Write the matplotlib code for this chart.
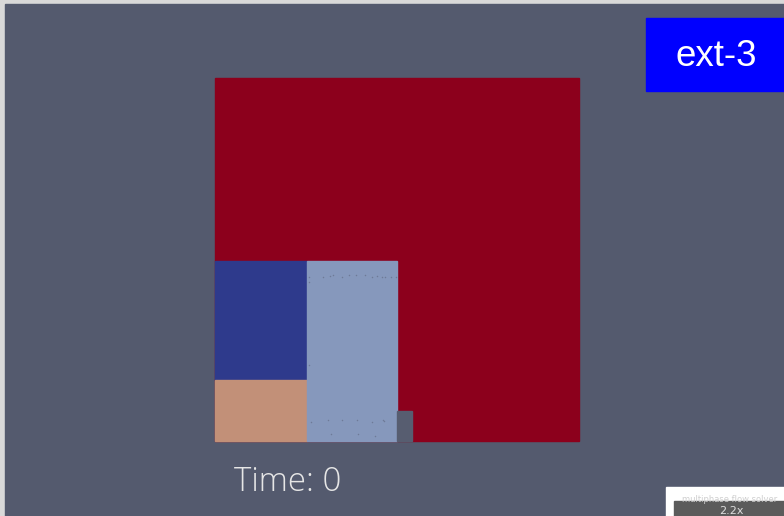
import matplotlib.pyplot as plt
from matplotlib.patches import Rectangle

# regioes do dominio (x0, y0, x1, y1) em coordenadas de tela
regioes = ['fluido', 'bloco_azul', 'bloco_areia', 'bloco_claro', 'degrau']
x0 = [215, 215, 215, 307, 397]
y0 = [78, 261, 380, 261, 411]
x1 = [579, 307, 307, 397, 412]
y1 = [441, 380, 441, 441, 441]
cores = ['#8c001c', '#2e3a8c', '#c29078', '#8698bc', '#575d70']

# pontos espalhados na regiao clara
pts_x = [309, 323, 330, 333, 342, 349, 356, 365, 372, 377, 382, 385, 391, 396,
         311, 328, 342, 357, 372, 383, 384, 331, 358, 375, 309, 309]
pts_y = [277, 277, 276, 275, 277, 275, 275, 275, 277, 276, 277, 277, 277, 277,
         422, 420, 420, 420, 422, 420, 421, 434, 434, 436, 282, 365]

rotulo = 'ext-3'
tempo = 'Time: 0'

fig = plt.figure(figsize=(7.84, 5.16), dpi=100)
fig.patch.set_facecolor('#d9d9d9')
ax = fig.add_axes([0, 0, 1, 1])
ax.set_xlim(0, 784)
ax.set_ylim(516, 0)
ax.axis('off')

# fundo do viewport
ax.add_patch(Rectangle((5, 4), 779, 512, color='#545a6e', zorder=0))

for a, b, c, d, cor in zip(x0, y0, x1, y1, cores):
    ax.add_patch(Rectangle((a, b), c - a, d - b, color=cor, zorder=1))

ax.scatter(pts_x, pts_y, s=1.2, color='#6e7a98', zorder=2, linewidths=0)

# caixa do rotulo
ax.add_patch(Rectangle((646, 18), 138, 73, color='#0000ff', zorder=3))
ax.text(716.5, 56, rotulo, color='white', fontsize=26.5, family='Liberation Sans',
        ha='center', va='center', zorder=4)

ax.text(234, 491, tempo, color='#e6e6e6', fontsize=23.8, family='Open Sans',
        fontweight='light', ha='left', va='baseline', zorder=4)

# miniatura cortada no canto
ax.add_patch(Rectangle((666, 487), 118, 29, color='white', zorder=3))
ax.add_patch(Rectangle((674, 501), 110, 15, color='#5b5b5b', zorder=4))
ax.text(730, 499, 'multiphase flow solver', color='#cfcfcf', fontsize=6,
        ha='center', va='center', zorder=5, clip_on=True)
ax.text(731, 516, '2.2x', color='#dddddd', fontsize=8, ha='center', va='bottom',
        zorder=5, clip_on=True)

plt.savefig('out.png', dpi=100)
